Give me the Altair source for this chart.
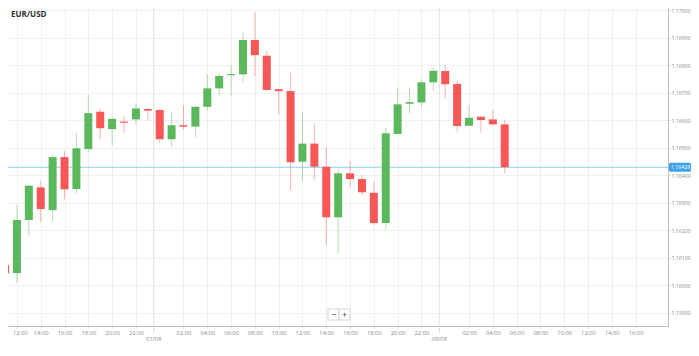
import altair as alt
import pandas as pd

# ---- data (hourly candles, hours counted from 06/08 00:00) ----
hours = list(range(11, 54))
opens = [1.16073, 1.16044, 1.16237, 1.16356, 1.16273, 1.16466, 1.16350, 1.16495, 1.16631, 1.16568,
         1.16595, 1.16603, 1.16641, 1.16637, 1.16531, 1.16582, 1.16577, 1.16649, 1.16716, 1.16764,
         1.16767, 1.16892, 1.16835, 1.16713, 1.16706, 1.16449, 1.16515, 1.16431, 1.16247, 1.16407,
         1.16386, 1.16336, 1.16226, 1.16550, 1.16660, 1.16665, 1.16738, 1.16779, 1.16732, 1.16580,
         1.16613, 1.16603, 1.16585]
highs = [1.16077, 1.16292, 1.16364, 1.16380, 1.16474, 1.16488, 1.16555, 1.16692, 1.16643, 1.16611,
         1.16613, 1.16663, 1.16643, 1.16641, 1.16631, 1.16655, 1.16654, 1.16768, 1.16771, 1.16801,
         1.16919, 1.16992, 1.16853, 1.16714, 1.16773, 1.16628, 1.16590, 1.16503, 1.16423, 1.16451,
         1.16401, 1.16375, 1.16572, 1.16718, 1.16720, 1.16750, 1.16791, 1.16801, 1.16743, 1.16655,
         1.16615, 1.16637, 1.16603]
lows = [1.16037, 1.16008, 1.16180, 1.16229, 1.16233, 1.16312, 1.16334, 1.16486, 1.16531, 1.16507,
        1.16553, 1.16586, 1.16599, 1.16518, 1.16502, 1.16567, 1.16538, 1.16635, 1.16689, 1.16686,
        1.16737, 1.16761, 1.16708, 1.16622, 1.16346, 1.16379, 1.16385, 1.16146, 1.16116, 1.16356,
        1.16328, 1.16219, 1.16201, 1.16549, 1.16625, 1.16649, 1.16708, 1.16677, 1.16556, 1.16579,
        1.16555, 1.16584, 1.16407]
closes = [1.16043, 1.16237, 1.16362, 1.16277, 1.16466, 1.16349, 1.16498, 1.16626, 1.16571, 1.16605,
          1.16591, 1.16643, 1.16635, 1.16531, 1.16582, 1.16577, 1.16649, 1.16716, 1.16761, 1.16768,
          1.16892, 1.16837, 1.16710, 1.16706, 1.16447, 1.16515, 1.16431, 1.16247, 1.16407, 1.16386,
          1.16338, 1.16226, 1.16553, 1.16658, 1.16666, 1.16738, 1.16780, 1.16731, 1.16579, 1.16609,
          1.16601, 1.16585, 1.16429]

current_price = 1.16429
current_label = "1.16429"
hour_ticks = [12, 14, 16, 18, 20, 22, 26, 28, 30, 32, 34, 36, 38, 40, 42, 44, 46,
              50, 52, 54, 56, 58, 60, 62, 64]
price_ticks = [1.159, 1.160, 1.161, 1.162, 1.163, 1.164, 1.165, 1.166, 1.167, 1.168, 1.169, 1.170]
day_breaks = [23.5, 47.5]
day_labels = ["07/08", "08/08"]
symbol = "EUR/USD"

# ---- layout / style ----
W, H = 660, 318
PAD = {"left": 0, "top": 0, "right": 23, "bottom": 18}
X_DOMAIN = [11.669, 66.305]
Y_DOMAIN = [1.158515, 1.170084]
GREEN = "#5cb85c"
RED = "#f75757"
BLUE_LINE = "#8ccff5"
BLUE_TAG = "#3fa3ec"
FONT = "Open Sans"

df = pd.DataFrame({"hour": hours, "open": opens, "high": highs, "low": lows, "close": closes})
days = pd.DataFrame({"hour": day_breaks, "label": day_labels})
price_df = pd.DataFrame({"price": [current_price], "label": [current_label]})

xscale = alt.Scale(domain=X_DOMAIN, nice=False, zero=False)
yscale = alt.Scale(domain=Y_DOMAIN, nice=False, zero=False)

xaxis = alt.Axis(
    values=hour_ticks, title=None, orient="bottom",
    labelExpr="(datum.value % 24 < 10 ? '0' : '') + (datum.value % 24) + ':00'",
    labelOffset={"condition": {"test": "datum.value == 12", "value": 3}, "value": 0},
    grid=True, gridColor="#f0f0f0", domainColor="#bdbdbd", tickColor="#cfcfcf",
    tickSize=2, labelPadding=1, labelFontSize=5.8, labelColor="#8a8a8a", labelFont=FONT,
)
yaxis = alt.Axis(
    values=price_ticks, title=None, orient="right", format=".5f",
    grid=True, gridColor="#f0f0f0", domainColor="#bdbdbd", tickColor="#cfcfcf",
    tickSize=2, labelPadding=1, labelFontSize=5.2, labelColor="#8a8a8a", labelFont=FONT,
)

X = alt.X("hour:Q", scale=xscale, axis=xaxis)
color = alt.condition("datum.close >= datum.open", alt.value(GREEN), alt.value(RED))

day_rules = alt.Chart(days).mark_rule(color="#e2e2e2", strokeWidth=1).encode(
    x=alt.X("hour:Q", scale=xscale, axis=xaxis)
)
day_ticks = alt.Chart(days).mark_rule(color="#bbbbbb", strokeDash=[1, 1]).encode(
    x=alt.X("hour:Q", scale=xscale, axis=xaxis), y=alt.value(H), y2=alt.value(H + 7)
)
day_text = alt.Chart(days).mark_text(fontSize=5.8, color="#8a8a8a", font=FONT, baseline="middle").encode(
    x=alt.X("hour:Q", scale=xscale, axis=xaxis), y=alt.value(H + 13), text="label:N"
)

price_line = alt.Chart(price_df).mark_rule(color=BLUE_LINE, strokeWidth=1).encode(
    y=alt.Y("price:Q", scale=yscale, axis=yaxis)
)

wicks = alt.Chart(df).mark_rule(strokeWidth=1, opacity=0.45, clip=True).encode(
    x=X, y=alt.Y("low:Q", scale=yscale, axis=yaxis), y2="high:Q", color=color
)
bodies = alt.Chart(df).mark_bar(size=8, clip=True).encode(
    x=X, y=alt.Y("open:Q", scale=yscale, axis=yaxis), y2="close:Q", color=color
)

tag_rect = alt.Chart(price_df).transform_calculate(
    top="datum.price + 0.00016", bot="datum.price - 0.00016"
).mark_rect(color=BLUE_TAG, cornerRadius=1.5).encode(
    x=alt.value(W + 1), x2=alt.value(W + 23),
    y=alt.Y("top:Q", scale=yscale, axis=yaxis), y2="bot:Q"
)
tag_text = alt.Chart(price_df).mark_text(
    color="white", fontSize=5.2, font=FONT, align="left", baseline="middle"
).encode(x=alt.value(W + 3), y=alt.Y("price:Q", scale=yscale, axis=yaxis), text="label:N")

title_df = pd.DataFrame({"t": [symbol]})
title = alt.Chart(title_df).mark_text(
    fontSize=8, fontWeight="bold", color="#333333", font=FONT, align="left", baseline="top"
).encode(x=alt.value(3), y=alt.value(2.5), text="t:N")

btn_box1 = alt.Chart(title_df).mark_rect(fill="white", stroke="#cccccc", strokeWidth=0.8).encode(
    x=alt.value(320), x2=alt.value(331), y=alt.value(301), y2=alt.value(312))
btn_box2 = alt.Chart(title_df).mark_rect(fill="white", stroke="#cccccc", strokeWidth=0.8).encode(
    x=alt.value(331), x2=alt.value(342), y=alt.value(301), y2=alt.value(312))
btn_minus = alt.Chart(title_df).mark_text(text="−", fontSize=9, color="#444", font=FONT,
                                          baseline="middle").encode(x=alt.value(325.5), y=alt.value(306.5))
btn_plus = alt.Chart(title_df).mark_text(text="+", fontSize=9, color="#444", font=FONT,
                                         baseline="middle").encode(x=alt.value(336.5), y=alt.value(306.5))

chart = alt.layer(
    day_rules, price_line, wicks, bodies, tag_rect, tag_text, day_ticks, day_text,
    title, btn_box1, btn_box2, btn_minus, btn_plus
).properties(
    width=W, height=H, background="white",
    autosize=alt.AutoSizeParams(type="none"), padding=PAD,
).configure_view(stroke=None)

chart.save("out.html", embed_options={"renderer": "svg", "actions": False})
